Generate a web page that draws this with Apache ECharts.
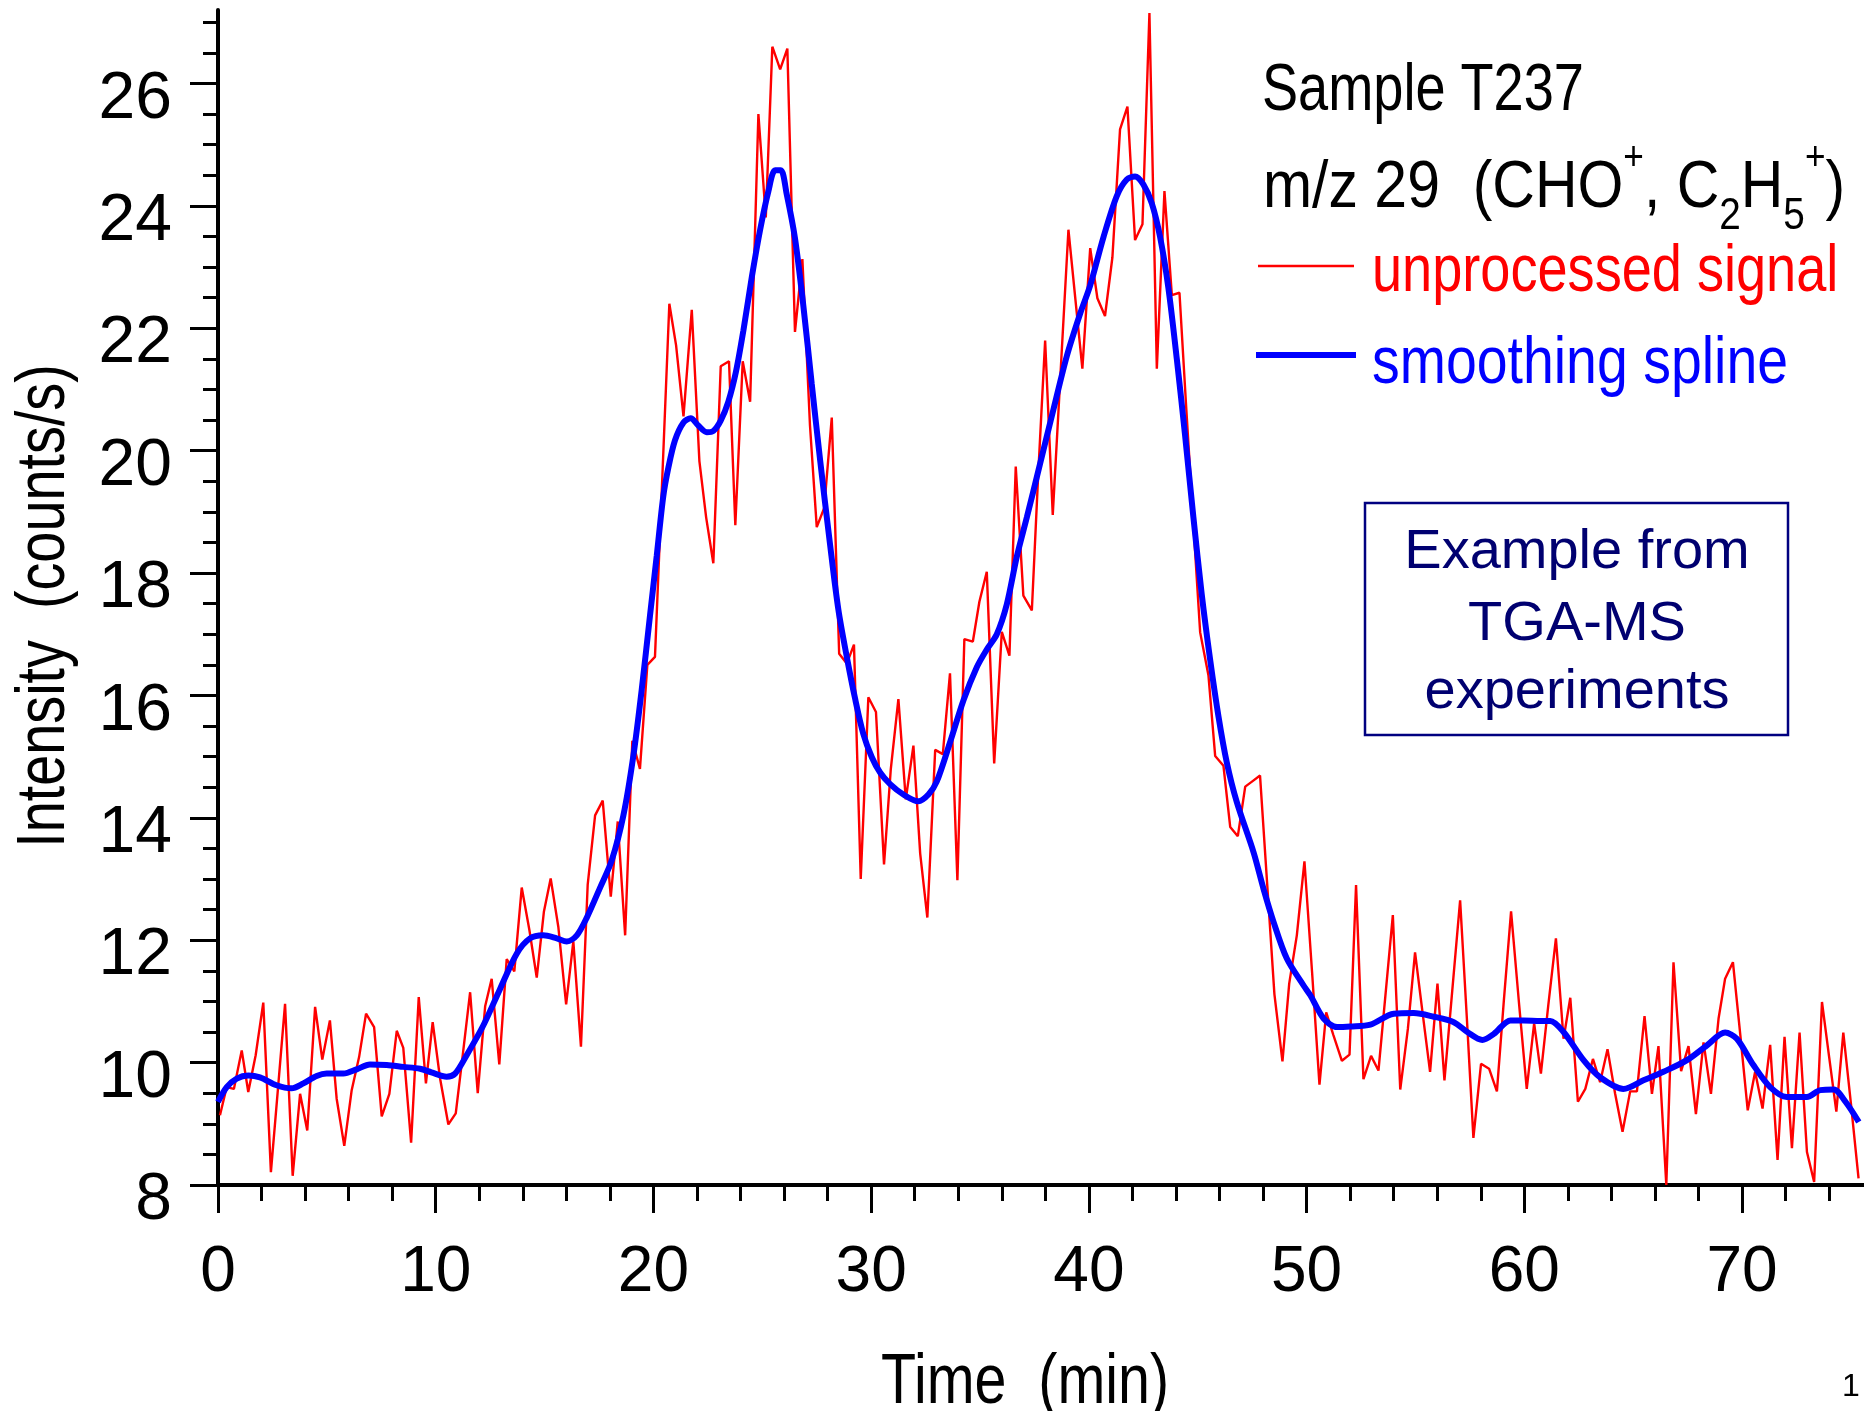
<!DOCTYPE html>
<html>
<head>
<meta charset="utf-8">
<title>Sample T237 m/z 29</title>
<script src="https://cdn.jsdelivr.net/npm/echarts@6.0.0/dist/echarts.min.js"></script>
<style>
  html, body { margin: 0; padding: 0; background: #fff; }
  #chart { width: 1864px; height: 1411px; }
</style>
</head>
<body>
<div id="chart"></div>
<script>
// unprocessed signal (time in min, counts/s)
var rawTime = [0.09, 0.40, 0.73, 1.09, 1.39, 1.73, 2.08, 2.43, 2.76, 3.08, 3.43, 3.77, 4.10, 4.46, 4.79, 5.14, 5.45, 5.80, 6.14, 6.48,
  6.80, 7.17, 7.52, 7.87, 8.21, 8.51, 8.87, 9.22, 9.55, 9.86, 10.20, 10.58, 10.92, 11.25, 11.58, 11.93, 12.27, 12.57, 12.92, 13.26,
  13.61, 13.95, 14.30, 14.64, 14.97, 15.28, 15.63, 15.99, 16.32, 16.67, 16.98, 17.32, 17.67, 18.04, 18.36, 18.70, 19.03, 19.38, 19.72, 20.07,
  20.40, 20.73, 21.04, 21.38, 21.76, 22.11, 22.42, 22.75, 23.09, 23.47, 23.76, 24.10, 24.44, 24.82, 25.16, 25.46, 25.82, 26.15, 26.50, 26.84,
  27.19, 27.50, 27.84, 28.19, 28.53, 28.88, 29.21, 29.52, 29.87, 30.22, 30.59, 30.90, 31.25, 31.59, 31.94, 32.25, 32.58, 32.94, 33.29, 33.62,
  33.96, 34.28, 34.67, 34.97, 35.31, 35.65, 36.00, 36.35, 36.64, 36.99, 37.38, 37.67, 37.99, 38.34, 38.70, 39.06, 39.38, 39.70, 40.06, 40.39,
  40.74, 41.08, 41.43, 41.77, 42.12, 42.46, 42.78, 43.12, 43.47, 43.81, 44.16, 44.47, 44.79, 45.11, 45.49, 45.80, 46.18, 46.49, 46.84, 47.18,
  47.52, 47.86, 48.19, 48.52, 48.89, 49.20, 49.55, 49.90, 50.25, 50.59, 50.90, 51.23, 51.62, 51.97, 52.27, 52.61, 52.96, 53.30, 53.63, 53.96,
  54.30, 54.65, 54.98, 55.32, 55.67, 56.01, 56.33, 56.69, 57.05, 57.36, 57.66, 58.01, 58.38, 58.74, 59.06, 59.39, 59.75, 60.11, 60.45, 60.76,
  61.10, 61.45, 61.80, 62.11, 62.46, 62.80, 63.15, 63.48, 63.82, 64.17, 64.51, 64.86, 65.17, 65.52, 65.86, 66.16, 66.52, 66.85, 67.20, 67.54,
  67.88, 68.23, 68.57, 68.92, 69.22, 69.58, 69.92, 70.26, 70.60, 70.94, 71.29, 71.63, 71.95, 72.29, 72.64, 72.98, 73.31, 73.67, 74.00, 74.33,
  74.65, 75.00, 75.35];
var rawSignal = [9.14, 9.60, 9.57, 10.20, 9.52, 10.12, 10.98, 8.21, 9.60, 10.96, 8.15, 9.49, 8.89, 10.91, 10.05, 10.69, 9.41, 8.64, 9.55, 10.09,
  10.80, 10.58, 9.12, 9.49, 10.52, 10.24, 8.69, 11.07, 9.66, 10.66, 9.74, 8.99, 9.17, 10.15, 11.15, 9.50, 10.92, 11.37, 9.97, 11.69,
  11.49, 12.86, 12.17, 11.39, 12.47, 13.01, 12.22, 10.95, 11.98, 10.26, 12.91, 14.04, 14.28, 12.71, 13.94, 12.08, 15.26, 14.80, 16.50, 16.63,
  19.50, 22.40, 21.72, 20.56, 22.30, 19.83, 18.91, 18.16, 21.38, 21.46, 18.78, 21.46, 20.80, 25.50, 23.81, 26.60, 26.23, 26.57, 21.94, 23.13,
  20.41, 18.75, 19.06, 20.54, 16.68, 16.52, 16.83, 13.00, 15.97, 15.73, 13.24, 14.79, 15.94, 14.30, 15.18, 13.42, 12.37, 15.11, 15.04, 16.36,
  12.98, 16.92, 16.88, 17.53, 18.02, 14.89, 17.04, 16.65, 19.74, 17.63, 17.39, 19.60, 21.80, 18.95, 21.28, 23.61, 22.47, 21.34, 23.31, 22.49,
  22.20, 23.16, 25.25, 25.62, 23.44, 23.70, 27.15, 21.34, 24.24, 22.54, 22.58, 20.70, 18.85, 17.03, 16.33, 15.01, 14.85, 13.85, 13.70, 14.51,
  14.60, 14.69, 12.91, 11.12, 10.02, 11.29, 12.08, 13.29, 11.48, 9.64, 10.82, 10.45, 10.03, 10.13, 12.90, 9.73, 10.11, 9.87, 11.14, 12.41,
  9.56, 10.55, 11.80, 10.83, 9.85, 11.29, 9.71, 11.18, 12.65, 10.72, 8.77, 9.98, 9.90, 9.53, 11.02, 12.47, 10.99, 9.57, 10.64, 9.82,
  10.94, 12.03, 10.39, 11.06, 9.36, 9.57, 10.06, 9.68, 10.22, 9.49, 8.87, 9.53, 9.53, 10.76, 9.49, 10.27, 8.00, 11.64, 9.86, 10.27,
  9.16, 10.33, 9.49, 10.72, 11.37, 11.64, 10.45, 9.22, 9.85, 9.25, 10.29, 8.41, 10.42, 8.60, 10.49, 8.54, 8.05, 10.99, 10.09, 9.20,
  10.49, 9.33, 8.11];

// smoothing spline
var splineTime = [0.00, 0.40, 0.86, 1.39, 1.93, 2.69, 3.38, 3.92, 4.53, 4.99, 5.76, 6.37, 6.98, 7.75, 8.51, 9.28, 9.80, 10.50, 10.89, 11.42,
  12.19, 12.95, 13.72, 14.33, 14.94, 15.56, 16.02, 16.48, 16.94, 17.55, 18.08, 18.62, 19.08, 19.46, 19.84, 20.15, 20.45, 20.69, 20.99, 21.38,
  21.71, 22.06, 22.45, 22.75, 23.09, 23.44, 23.79, 24.13, 24.52, 24.90, 25.28, 25.59, 25.85, 26.12, 26.50, 26.89, 27.27, 27.66, 28.11, 28.49,
  28.88, 29.26, 29.64, 30.03, 30.41, 30.87, 31.48, 32.17, 32.63, 33.01, 33.62, 34.24, 34.85, 35.31, 35.77, 36.23, 36.69, 37.15, 37.76, 38.37,
  38.99, 39.60, 40.06, 40.67, 41.28, 41.74, 42.12, 42.50, 42.89, 43.27, 43.65, 44.04, 44.42, 44.80, 45.18, 45.57, 45.95, 46.33, 46.79, 47.56,
  48.02, 48.48, 49.09, 49.86, 50.17, 50.78, 51.40, 52.01, 52.93, 54.00, 54.92, 55.84, 56.76, 57.38, 58.07, 58.60, 59.36, 59.97, 60.74, 61.19,
  61.80, 62.72, 63.48, 64.55, 65.47, 66.39, 67.47, 68.38, 69.22, 69.76, 70.52, 71.29, 72.05, 72.98, 73.59, 74.21, 74.75, 75.36];
var splineSignal = [9.36, 9.60, 9.74, 9.79, 9.76, 9.63, 9.58, 9.66, 9.78, 9.82, 9.82, 9.89, 9.97, 9.96, 9.93, 9.90, 9.84, 9.77, 9.82, 10.12,
  10.61, 11.20, 11.78, 12.03, 12.08, 12.03, 11.98, 12.08, 12.37, 12.86, 13.30, 14.04, 15.02, 16.09, 17.30, 18.28, 19.25, 19.73, 20.17, 20.46,
  20.53, 20.41, 20.30, 20.32, 20.49, 20.80, 21.29, 21.96, 22.84, 23.61, 24.24, 24.58, 24.58, 24.19, 23.47, 22.35, 21.09, 19.83, 18.47, 17.41,
  16.63, 15.95, 15.37, 14.99, 14.74, 14.55, 14.38, 14.27, 14.38, 14.59, 15.23, 15.92, 16.46, 16.75, 17.00, 17.49, 18.27, 18.91, 19.79, 20.67,
  21.55, 22.24, 22.70, 23.49, 24.16, 24.43, 24.48, 24.35, 24.04, 23.49, 22.66, 21.49, 20.24, 18.91, 17.66, 16.58, 15.66, 14.91, 14.26, 13.44,
  12.84, 12.30, 11.70, 11.26, 11.10, 10.72, 10.58, 10.59, 10.62, 10.80, 10.81, 10.75, 10.66, 10.50, 10.37, 10.47, 10.69, 10.69, 10.68, 10.68,
  10.50, 10.04, 9.76, 9.57, 9.71, 9.85, 10.04, 10.28, 10.49, 10.39, 9.96, 9.60, 9.44, 9.44, 9.55, 9.56, 9.36, 9.03];

var xTicks = [0, 10, 20, 30, 40, 50, 60, 70];
var yTicks = [8, 10, 12, 14, 16, 18, 20, 22, 24, 26];

var sans = '"Liberation Sans", Arial, sans-serif';
var narrowX = 0.82;   // the original lettering is a condensed face

function pairs(xs, ys) {
  return xs.map(function (x, i) { return [x, ys[i]]; });
}

// condensed text drawn as a graphic element
function label(x, y, text, size, color, align, extra) {
  var el = {
    type: 'text', x: x, y: y, scaleX: narrowX,
    style: { text: text, font: size + 'px ' + sans, fill: color, textAlign: align || 'left', textVerticalAlign: 'middle' }
  };
  return Object.assign(el, extra || {});
}

var chart = echarts.init(document.getElementById('chart'), null, { renderer: 'canvas' });

var option = {
  animation: false,
  backgroundColor: '#ffffff',
  grid: { left: 218, right: 0, top: 10, bottom: 226, containLabel: false, outerBoundsMode: 'none' },
  xAxis: {
    type: 'value', min: 0, max: 75.6, interval: 10,
    axisLine: { show: true, onZero: false, lineStyle: { color: '#000', width: 4 } },
    axisTick: { show: true, length: 28, customValues: xTicks, lineStyle: { color: '#000', width: 3 } },
    minorTick: { show: true, splitNumber: 5, length: 16, lineStyle: { color: '#000', width: 3 } },
    axisLabel: { customValues: xTicks, margin: 56, fontSize: 64, fontFamily: sans, color: '#000' },
    splitLine: { show: false }
  },
  yAxis: {
    type: 'value', min: 8, max: 27.2, interval: 2,
    axisLine: { show: true, onZero: false, lineStyle: { color: '#000', width: 4 } },
    axisTick: { show: true, length: 28, customValues: yTicks, lineStyle: { color: '#000', width: 3 } },
    minorTick: { show: true, splitNumber: 4, length: 15, lineStyle: { color: '#000', width: 3 } },
    axisLabel: { customValues: yTicks, margin: 46, fontSize: 66, fontFamily: sans, color: '#000', verticalAlign: 'top', lineHeight: 32 },
    splitLine: { show: false }
  },
  series: [
    {
      name: 'unprocessed signal', type: 'line', data: pairs(rawTime, rawSignal),
      showSymbol: false, symbol: 'none', z: 2,
      lineStyle: { color: '#ff0000', width: 2.4 }
    },
    {
      name: 'smoothing spline', type: 'line', data: pairs(splineTime, splineSignal),
      showSymbol: false, symbol: 'none', smooth: 0.3, z: 3,
      lineStyle: { color: '#0000ff', width: 6 }
    }
  ],
  graphic: [
    label(1262, 92, 'Sample T237', 66, '#000'),
    {
      type: 'text', x: 1263, y: 189, scaleX: 0.88,
      style: {
        text: '{m|m/z 29  (CHO}{s|+}{m|, C}{b|2}{m|H}{b|5}{s|+}{m|)}',
        textVerticalAlign: 'middle',
        rich: {
          m: { fontSize: 67, fontFamily: sans, fill: '#000', lineHeight: 100 },
          s: { fontSize: 40, fontFamily: sans, fill: '#000', lineHeight: 40, verticalAlign: 'top' },
          b: { fontSize: 44, fontFamily: sans, fill: '#000', lineHeight: 56, verticalAlign: 'bottom' }
        }
      }
    },
    { type: 'line', shape: { x1: 1258, y1: 266, x2: 1354, y2: 266 }, style: { stroke: '#ff0000', lineWidth: 2.4 } },
    label(1372, 273, 'unprocessed signal', 66, '#ff0000'),
    { type: 'line', shape: { x1: 1256, y1: 355, x2: 1356, y2: 355 }, style: { stroke: '#0000ff', lineWidth: 6 } },
    label(1372, 365, 'smoothing spline', 66, '#0000ff', 'left', { scaleX: 0.84 }),
    { type: 'rect', shape: { x: 1365, y: 503, width: 423, height: 232 }, style: { fill: 'none', stroke: '#000080', lineWidth: 2.5 } },
    { type: 'text', x: 1577, y: 553, style: { text: 'Example from', font: '56px ' + sans, fill: '#000070', textAlign: 'center', textVerticalAlign: 'middle' } },
    { type: 'text', x: 1577, y: 625, style: { text: 'TGA-MS', font: '56px ' + sans, fill: '#000070', textAlign: 'center', textVerticalAlign: 'middle' } },
    { type: 'text', x: 1577, y: 693, style: { text: 'experiments', font: '56px ' + sans, fill: '#000070', textAlign: 'center', textVerticalAlign: 'middle' } },
    // axis titles
    label(45, 606, 'Intensity  (counts/s)', 68, '#000', 'center', { rotation: Math.PI / 2 }),
    label(1025, 1384, 'Time  (min)', 70, '#000', 'center'),
    { type: 'text', x: 1851, y: 1387, style: { text: '1', font: '32px ' + sans, fill: '#000', textAlign: 'center', textVerticalAlign: 'middle' } }
  ]
};

chart.setOption(option);
</script>
</body>
</html>
